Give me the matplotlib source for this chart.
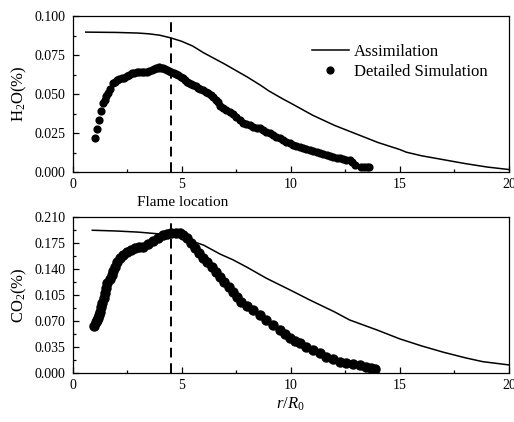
import matplotlib
matplotlib.use("Agg")
import matplotlib.pyplot as plt
from matplotlib.ticker import MultipleLocator, FormatStrFormatter

plt.rcParams['font.family'] = ['Liberation Serif', 'DejaVu Serif']
plt.rcParams['mathtext.fontset'] = 'custom'
plt.rcParams['mathtext.rm'] = 'Liberation Serif'
plt.rcParams['mathtext.it'] = 'Liberation Serif:italic'

flame_x = 4.53

# H2O assimilation
h2o_assim_x = [0.6, 2, 3, 3.5, 4, 4.5, 5, 5.5, 6, 7, 8, 8.6, 9, 9.65, 10, 11, 12, 13, 14, 15, 15.3, 16, 17, 18, 19, 20]
h2o_assim_y = [0.0897, 0.0895, 0.0891, 0.0886, 0.0877, 0.0860, 0.0838, 0.0808, 0.0765, 0.0690, 0.0610, 0.0558,
               0.0520, 0.0468, 0.0442, 0.0365, 0.0300, 0.0245, 0.0190, 0.0145, 0.0128, 0.0105, 0.0080, 0.0055,
               0.0033, 0.0017]

# H2O detailed simulation
h2o_sim_x = [1.03, 1.10, 1.20, 1.30, 1.40, 1.48, 1.55, 1.60, 1.71, 1.83, 1.92, 2.01, 2.12, 2.24, 2.35, 2.47, 2.58,
             2.70, 2.82, 2.93, 3.05, 3.16, 3.28, 3.39, 3.50, 3.62, 3.72, 3.82, 3.90, 3.97, 4.06, 4.15, 4.24, 4.33,
             4.43, 4.53, 4.63, 4.73, 4.85, 4.96, 5.05, 5.14, 5.24, 5.34, 5.44, 5.53, 5.64, 5.75, 5.86, 5.98, 6.10,
             6.21, 6.32, 6.44, 6.55, 6.67, 6.75, 6.90, 7.05, 7.20, 7.35, 7.50, 7.66, 7.80, 7.95, 8.12, 8.28, 8.43,
             8.58, 8.73, 8.88, 9.04, 9.19, 9.34, 9.49, 9.64, 9.80, 9.95, 10.10, 10.26, 10.41, 10.56, 10.72, 10.87,
             11.02, 11.18, 11.33, 11.48, 11.64, 11.79, 11.94, 12.10, 12.25, 12.40, 12.55, 12.71, 12.82, 12.94,
             13.20, 13.35, 13.50, 13.60]
h2o_sim_y = [0.0220, 0.0278, 0.0335, 0.0390, 0.0444, 0.0460, 0.0485, 0.0504, 0.0532, 0.0569, 0.0578, 0.0590,
             0.0598, 0.0600, 0.0606, 0.0617, 0.0625, 0.0637, 0.0636, 0.0639, 0.0644, 0.0643, 0.0641, 0.0643,
             0.0649, 0.0654, 0.0660, 0.0665, 0.0668, 0.0671, 0.0668, 0.0665, 0.0659, 0.0654, 0.0649, 0.0643,
             0.0636, 0.0628, 0.0620, 0.0611, 0.0600, 0.0590, 0.0580, 0.0573, 0.0566, 0.0558, 0.0549, 0.0540,
             0.0534, 0.0526, 0.0515, 0.0504, 0.0492, 0.0479, 0.0465, 0.0450, 0.0423, 0.0410, 0.0398, 0.0387,
             0.0370, 0.0352, 0.0333, 0.0318, 0.0310, 0.0301, 0.0292, 0.0286, 0.0280, 0.0270, 0.0259, 0.0248,
             0.0238, 0.0227, 0.0216, 0.0205, 0.0195, 0.0184, 0.0176, 0.0170, 0.0162, 0.0155, 0.0148, 0.0141,
             0.0136, 0.0128, 0.0120, 0.0115, 0.0109, 0.0103, 0.0098, 0.0093, 0.0088, 0.0084, 0.0080, 0.0077,
             0.0062, 0.0045, 0.0034, 0.0034, 0.0034, 0.0034]

# CO2 assimilation
co2_assim_x = [0.9, 2, 3, 4, 4.5, 5, 5.5, 6, 6.75, 7.36, 8, 8.88, 10, 10.87, 12, 12.7, 14, 15, 16, 17, 18, 18.8, 20]
co2_assim_y = [0.1920, 0.1910, 0.1895, 0.1870, 0.1855, 0.1820, 0.1770, 0.1720, 0.1600, 0.1520, 0.1420, 0.1273,
               0.1110, 0.0980, 0.0820, 0.0710, 0.0570, 0.0455, 0.0360, 0.0275, 0.0200, 0.0148, 0.0104]

# CO2 detailed simulation
co2_sim_x = [0.975, 1.05, 1.12, 1.17, 1.21, 1.25, 1.30, 1.36, 1.42, 1.48, 1.54, 1.59, 1.69, 1.79, 1.86, 1.94,
             2.05, 2.17, 2.32, 2.47, 2.66, 2.85, 3.05, 3.24, 3.46, 3.69, 3.92, 4.15, 4.34, 4.53, 4.72, 4.92,
             5.07, 5.22, 5.41, 5.60, 5.79, 5.98, 6.17, 6.37, 6.56, 6.75, 6.95, 7.15, 7.36, 7.55, 7.74, 8.00,
             8.27, 8.58, 8.88, 9.19, 9.50, 9.72, 9.95, 10.18, 10.41, 10.72, 11.02, 11.33, 11.63, 11.94, 12.24,
             12.55, 12.85, 13.16, 13.47, 13.66, 13.85]
co2_sim_y = [0.0634, 0.0680, 0.0710, 0.0734, 0.0780, 0.0823, 0.0880, 0.0936, 0.1000, 0.1070, 0.1140, 0.1206,
             0.1262, 0.1318, 0.1375, 0.1430, 0.1490, 0.1543, 0.1590, 0.1630, 0.1660, 0.1678, 0.1690, 0.1700,
             0.1740, 0.1776, 0.1817, 0.1857, 0.1875, 0.1888, 0.1888, 0.1880, 0.1850, 0.1813, 0.1745, 0.1678,
             0.1610, 0.1543, 0.1487, 0.1430, 0.1362, 0.1295, 0.1220, 0.1160, 0.1090, 0.1020, 0.0958, 0.0900,
             0.0846, 0.0780, 0.0710, 0.0643, 0.0576, 0.0520, 0.0464, 0.0430, 0.0397, 0.0350, 0.0306, 0.0260,
             0.0216, 0.0180, 0.0148, 0.0130, 0.0113, 0.0097, 0.0081, 0.0065, 0.0050]

fig = plt.figure(figsize=(5.14, 4.22), dpi=100)
ax1 = fig.add_axes([0.1414, 0.592, 0.8486, 0.370])
ax2 = fig.add_axes([0.1414, 0.117, 0.8486, 0.369])

tick_fs = 10
for ax in (ax1, ax2):
    ax.set_xlim(0, 20)
    ax.xaxis.set_major_locator(MultipleLocator(5))
    ax.xaxis.set_minor_locator(MultipleLocator(2.5))
    ax.tick_params(which='both', direction='in', top=False, right=False, labelsize=tick_fs, width=0.9)
    ax.tick_params(which='major', length=4)
    ax.tick_params(which='minor', length=2.5)
    ax.tick_params(axis='y', which='both', pad=5)
    ax.tick_params(axis='x', which='both', pad=4.5)
    for s in ax.spines.values():
        s.set_linewidth(0.9)
    ax.axvline(flame_x, color='black', linestyle=(0, (5, 3)), linewidth=1.4)

ax1.set_ylim(0, 0.1)
ax1.yaxis.set_major_locator(MultipleLocator(0.025))
ax1.yaxis.set_minor_locator(MultipleLocator(0.0125))
ax1.yaxis.set_major_formatter(FormatStrFormatter('%.3f'))
ax1.plot(h2o_assim_x, h2o_assim_y, color='black', linewidth=1.1, label='Assimilation')
ax1.plot(h2o_sim_x, h2o_sim_y, linestyle='none', marker='o', markersize=4.9, color='black',
         label='Detailed Simulation')
ax1.set_ylabel('H$_2$O(%)', fontsize=12, labelpad=4)
ax1.set_xlabel('Flame location', fontsize=11)
ax1.xaxis.set_label_coords(0.253, -0.155)
leg = ax1.legend(loc='upper right', bbox_to_anchor=(0.985, 0.915), frameon=False, fontsize=12,
                 handlelength=2.2, handletextpad=0.3, labelspacing=0.2, markerscale=1.0)

ax2.set_ylim(0, 0.21)
ax2.yaxis.set_major_locator(MultipleLocator(0.035))
ax2.yaxis.set_minor_locator(MultipleLocator(0.0175))
ax2.yaxis.set_major_formatter(FormatStrFormatter('%.3f'))
ax2.plot(co2_assim_x, co2_assim_y, color='black', linewidth=1.1)
ax2.plot(co2_sim_x, co2_sim_y, linestyle='none', marker='o', markersize=6.5, color='black')
ax2.set_ylabel('CO$_2$(%)', fontsize=12, labelpad=4)
ax2.set_xlabel('$r/R_0$', fontsize=12, labelpad=3)

fig.savefig('out.png', dpi=100)
